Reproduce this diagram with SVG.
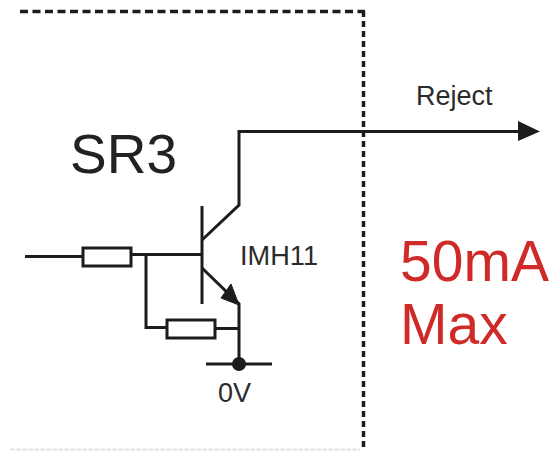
<svg xmlns="http://www.w3.org/2000/svg" width="550" height="451" viewBox="0 0 550 451">
<style>
.w{fill:none;stroke:#1c1c1c;stroke-width:3;stroke-linecap:butt;stroke-linejoin:miter}
.r{fill:#fff;stroke:#1c1c1c;stroke-width:3}
.d{fill:none;stroke:#1c1c1c;stroke-width:3.500}
text{font-family:"Liberation Sans",Arial,sans-serif}
.t{fill:#2b2b2b;font-size:27px;font-weight:400}
.red{fill:#cf2a27;font-size:57px}
</style>
<rect width="550" height="451" fill="#fff"/>
<g id="boundary">
<path class="d" d="M20 11.500H365" stroke-dasharray="8 4.500"/>
<path class="d" d="M363.500 11V451" stroke-dasharray="6 4"/>
<path d="M10 449.500H360" stroke="#e4e4e4" stroke-width="2" stroke-dasharray="5 1" fill="none"/>
</g>
<g id="connectors">
<path class="w" d="M25 256.500H83"/>
<path class="w" d="M131 254.500H202"/>
<path class="w" d="M146 255V327.500H167"/>
<path class="w" d="M215 328.500H239"/>
<path class="w" d="M202 240L239 205V131.500H520"/>
<path class="w" d="M202 268L239 304V364"/>
<path d="M239 305L221 298L231 284Z" fill="#1c1c1c" stroke="#1c1c1c"/>
<path d="M518 121L540 131.500L518 141Z" fill="#1c1c1c"/>
</g>
<g id="transistor">
<path class="w" d="M202 206V304"/>
<text class="t" x="240" y="265" textLength="78" lengthAdjust="spacingAndGlyphs">IMH11</text>
</g>
<g id="r1"><rect class="r" x="83" y="248" width="48" height="18"/></g>
<g id="r2"><rect class="r" x="167" y="320" width="48" height="18"/></g>
<g id="ground">
<path class="w" d="M206 364H272"/>
<circle cx="239" cy="364" r="7" fill="#1c1c1c"/>
<text class="t" x="218" y="402">0V</text>
</g>
<g id="labels">
<text x="70" y="173" font-size="55" fill="#222">SR3</text>
<text class="t" x="416" y="105">Reject</text>
<text class="red" x="400" y="281">50mA</text>
<text class="red" x="400" y="344">Max</text>
</g>
</svg>
